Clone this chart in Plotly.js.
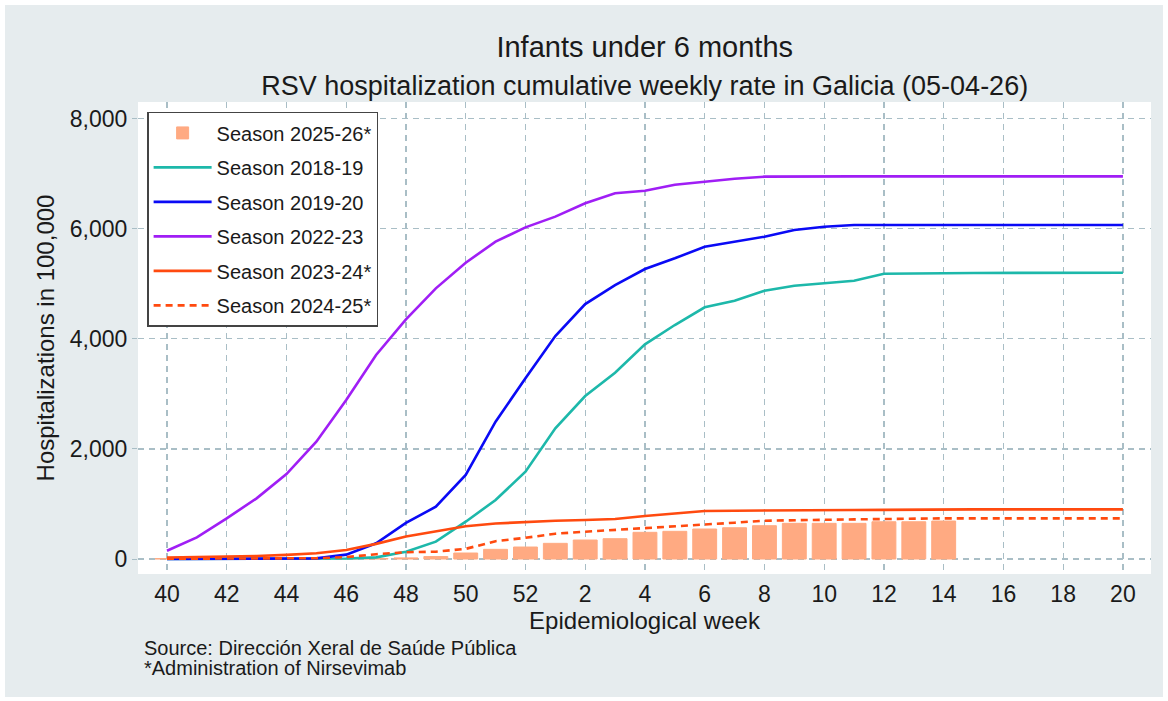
<!DOCTYPE html>
<html>
<head>
<meta charset="utf-8">
<script src="https://cdn.plot.ly/plotly-3.0.1.min.js"></script>
<style>
html,body{margin:0;padding:0;background:#fff;}
#chart{width:1168px;height:701px;}
</style>
</head>
<body>
<div id="chart"></div>
<script>
// Epidemiological weeks (season runs week 40 to week 20)
const weeks = ['40','41','42','43','44','45','46','47','48','49','50','51','52',
  '1','2','3','4','5','6','7','8','9','10','11','12','13','14','15','16','17','18','19','20'];
const tickWeeks = ['40','42','44','46','48','50','52','2','4','6','8','10','12','14','16','18','20'];

// Season 2025-26* (bars, data up to week 14)
const season2526 = [8,8,8,8,8,8,8,8,20,45,109,176,218,
  285,345,369,485,503,545,568,605,648,648,648,677,677,690];
// Season 2018-19
const season1819 = [0,0,0,0,0,5,10,30,133,315,678,1072,1586,
  2374,2960,3384,3899,4250,4571,4691,4873,4964,5007,5055,5180,5190,5190,5195,5195,5195,5200,5200,5200];
// Season 2019-20
const season1920 = [0,0,0,0,0,12,80,285,655,950,1526,2494,3282,
  4050,4630,4976,5267,5461,5672,5763,5854,5975,6035,6066,6066,6066,6066,6066,6066,6066,6066,6066,6066];
// Season 2022-23
const season2223 = [151,394,739,1102,1544,2131,2888,3705,4353,4916,5382,5763,6023,
  6218,6460,6642,6689,6798,6853,6907,6944,6950,6950,6950,6950,6950,6950,6950,6950,6950,6950,6950,6950];
// Season 2023-24*
const season2324 = [28,34,45,55,75,105,165,275,410,496,595,645,672,
  696,708,726,781,829,871,878,884,886,888,890,892,898,902,902,902,902,902,902,902];
// Season 2024-25*
const season2425 = [5,5,5,5,8,15,35,88,124,133,185,324,385,
  460,496,527,557,587,617,660,696,708,720,720,726,739,739,739,739,739,739,739,739];

const seriesNames = ['Season 2025-26*','Season 2018-19','Season 2019-20','Season 2022-23','Season 2023-24*','Season 2024-25*'];

const barColor = '#FFAA82';
const lw = 2.6;

const traces = [
  {type:'bar', x:weeks.slice(0, season2526.length), y:season2526, name:seriesNames[0],
   marker:{color:barColor, line:{color:barColor, width:1}}, width:0.8, legendgroup:'a'},
  {type:'scatter', mode:'lines', x:weeks, y:season1819, name:seriesNames[1],
   line:{color:'#1DB8AA', width:lw}, legendgroup:'b'},
  {type:'scatter', mode:'lines', x:weeks, y:season1920, name:seriesNames[2],
   line:{color:'#0A0AF5', width:lw}, legendgroup:'c'},
  {type:'scatter', mode:'lines', x:weeks, y:season2223, name:seriesNames[3],
   line:{color:'#A01EF5', width:lw}, legendgroup:'d'},
  {type:'scatter', mode:'lines', x:weeks, y:season2324, name:seriesNames[4],
   line:{color:'#FF4A0F', width:lw}, legendgroup:'e'},
  {type:'scatter', mode:'lines', x:weeks, y:season2425, name:seriesNames[5],
   line:{color:'#FF4A0F', width:lw, dash:'7px,5px'}, legendgroup:'f'}
];

const gridColor = '#A9BEC6';
const bgGray = '#E6ECEE';
const txt = '#1a1a1a';

const layout = {
  width:1168, height:701,
  margin:{l:138, r:17, t:102, b:127, pad:0},
  paper_bgcolor:'#FFFFFF',
  plot_bgcolor:'#FFFFFF',
  font:{family:'Arial, "Liberation Sans", sans-serif', color:txt},
  title:{
    text:'Infants under 6 months<br><span style="font-size:27px">RSV hospitalization cumulative weekly rate in Galicia (05-04-26)</span>',
    font:{size:29, color:txt},
    x:0.552, xanchor:'center', xref:'container',
    y:0.918, yanchor:'top', yref:'container'
  },
  showlegend:true,
  legend:{
    x:0.009, y:0.979, xanchor:'left', yanchor:'top',
    bgcolor:'#FFFFFF', bordercolor:'#444444', borderwidth:1.5,
    font:{size:20, color:txt},
    itemwidth:58, tracegroupgap:5.5, traceorder:'grouped'
  },
  xaxis:{
    type:'category',
    range:[-0.97, 32.94],
    tickmode:'array', tickvals:tickWeeks, ticktext:tickWeeks,
    showgrid:true, gridcolor:gridColor, gridwidth:1.2, griddash:'6px,5px',
    zeroline:false, showline:false, ticks:'', ticklabelstandoff:4,
    tickfont:{size:23, color:txt},
    title:{text:'Epidemiological week', font:{size:24, color:txt}, standoff:0},
    automargin:true
  },
  yaxis:{
    range:[-272, 8300],
    tickmode:'array', tickvals:[0,2000,4000,6000,8000],
    tickformat:',d',
    showgrid:true, gridcolor:gridColor, gridwidth:1.2, griddash:'6px,5px',
    zeroline:false, showline:false,
    ticks:'outside', ticklen:5, tickcolor:gridColor,
    tickfont:{size:23, color:txt},
    title:{text:'Hospitalizations in 100,000', font:{size:24, color:txt}, standoff:8},
    automargin:false
  },
  shapes:[
    {type:'rect', xref:'paper', yref:'paper', layer:'below',
     x0:-0.1313, x1:1.0118, y0:-0.2606, y1:1.2055,
     fillcolor:bgGray, line:{width:0}},
    {type:'rect', xref:'paper', yref:'paper', layer:'below',
     x0:0, x1:1, y0:0, y1:1, fillcolor:'#FFFFFF', line:{width:0}}
  ],
  annotations:[
    {xref:'paper', yref:'paper', x:0.004, y:-0.156, xanchor:'left', yanchor:'middle',
     align:'left', showarrow:false,
     text:'Source: Dirección Xeral de Saúde Pública',
     font:{size:20, color:txt}},
    {xref:'paper', yref:'paper', x:0.004, y:-0.199, xanchor:'left', yanchor:'middle',
     align:'left', showarrow:false,
     text:'*Administration of Nirsevimab',
     font:{size:20, color:txt}}
  ],
  bargap:0.2
};

Plotly.newPlot('chart', traces, layout, {displayModeBar:false, staticPlot:true});
</script>
</body>
</html>
